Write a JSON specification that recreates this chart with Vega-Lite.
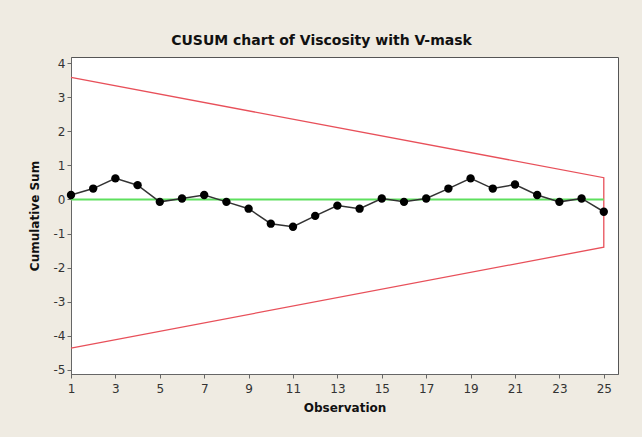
{
  "$schema": "https://vega.github.io/schema/vega-lite/v6.json",
  "autosize": "none",
  "width": 547,
  "height": 317,
  "padding": {"left": 71, "top": 57, "right": 24, "bottom": 63},
  "background": "#efebe2",
  "title": {
    "text": "CUSUM chart of Viscosity with V-mask",
    "font": "DejaVu Sans",
    "fontSize": 14,
    "fontWeight": "bold",
    "color": "#111111",
    "anchor": "middle",
    "frame": "group",
    "dx": -23,
    "offset": 9
  },
  "config": {
    "view": {"stroke": "#555555", "strokeWidth": 1, "fill": "white"},
    "axis": {
      "labelFont": "DejaVu Sans",
      "labelFontSize": 12,
      "labelColor": "#333333",
      "titleFont": "DejaVu Sans",
      "titleFontSize": 12,
      "titleFontWeight": "bold",
      "titleColor": "#111111",
      "grid": false,
      "domainColor": "#666666",
      "tickColor": "#666666",
      "tickSize": 4,
      "labelPadding": 2,
      "labelFlush": false,
      "labelOverlap": false
    }
  },
  "datasets": {
    "cusum": [
      {"Observation": 1, "CUSUM": 0.13},
      {"Observation": 2, "CUSUM": 0.32},
      {"Observation": 3, "CUSUM": 0.62},
      {"Observation": 4, "CUSUM": 0.42},
      {"Observation": 5, "CUSUM": -0.07},
      {"Observation": 6, "CUSUM": 0.03},
      {"Observation": 7, "CUSUM": 0.13},
      {"Observation": 8, "CUSUM": -0.07},
      {"Observation": 9, "CUSUM": -0.27},
      {"Observation": 10, "CUSUM": -0.71},
      {"Observation": 11, "CUSUM": -0.8},
      {"Observation": 12, "CUSUM": -0.48},
      {"Observation": 13, "CUSUM": -0.18},
      {"Observation": 14, "CUSUM": -0.27},
      {"Observation": 15, "CUSUM": 0.03},
      {"Observation": 16, "CUSUM": -0.07},
      {"Observation": 17, "CUSUM": 0.03},
      {"Observation": 18, "CUSUM": 0.32},
      {"Observation": 19, "CUSUM": 0.62},
      {"Observation": 20, "CUSUM": 0.32},
      {"Observation": 21, "CUSUM": 0.44},
      {"Observation": 22, "CUSUM": 0.13},
      {"Observation": 23, "CUSUM": -0.07},
      {"Observation": 24, "CUSUM": 0.03},
      {"Observation": 25, "CUSUM": -0.36}
    ],
    "mask": [
      {"Observation": 1, "CUSUM": 3.58, "ord": 1},
      {"Observation": 25, "CUSUM": 0.64, "ord": 2},
      {"Observation": 25, "CUSUM": -1.4, "ord": 3},
      {"Observation": 1, "CUSUM": -4.36, "ord": 4}
    ],
    "center": [
      {"Observation": 1, "CUSUM": 0},
      {"Observation": 25, "CUSUM": 0}
    ]
  },
  "encoding": {
    "x": {
      "field": "Observation",
      "type": "quantitative",
      "scale": {"domain": [1, 25.64], "nice": false, "zero": false},
      "axis": {"values": [1, 3, 5, 7, 9, 11, 13, 15, 17, 19, 21, 23, 25], "title": "Observation", "labelPadding": 5, "titlePadding": 8}
    },
    "y": {
      "field": "CUSUM",
      "type": "quantitative",
      "scale": {"domain": [-5.12, 4.18], "nice": false, "zero": false},
      "axis": {"values": [-5, -4, -3, -2, -1, 0, 1, 2, 3, 4], "labelExpr": "datum.value + ''", "title": "Cumulative Sum", "titlePadding": 12}
    }
  },
  "layer": [
    {
      "data": {"name": "mask"},
      "mark": {"type": "line", "color": "#e8505a", "strokeWidth": 1.3},
      "encoding": {"order": {"field": "ord", "type": "quantitative"}}
    },
    {
      "data": {"name": "center"},
      "mark": {"type": "line", "color": "#5ee05e", "strokeWidth": 2},
      "encoding": {}
    },
    {
      "data": {"name": "cusum"},
      "mark": {"type": "line", "color": "#333333", "strokeWidth": 1.5},
      "encoding": {}
    },
    {
      "data": {"name": "cusum"},
      "mark": {"type": "point", "filled": true, "color": "#000000", "opacity": 1, "size": 70},
      "encoding": {}
    }
  ]
}
